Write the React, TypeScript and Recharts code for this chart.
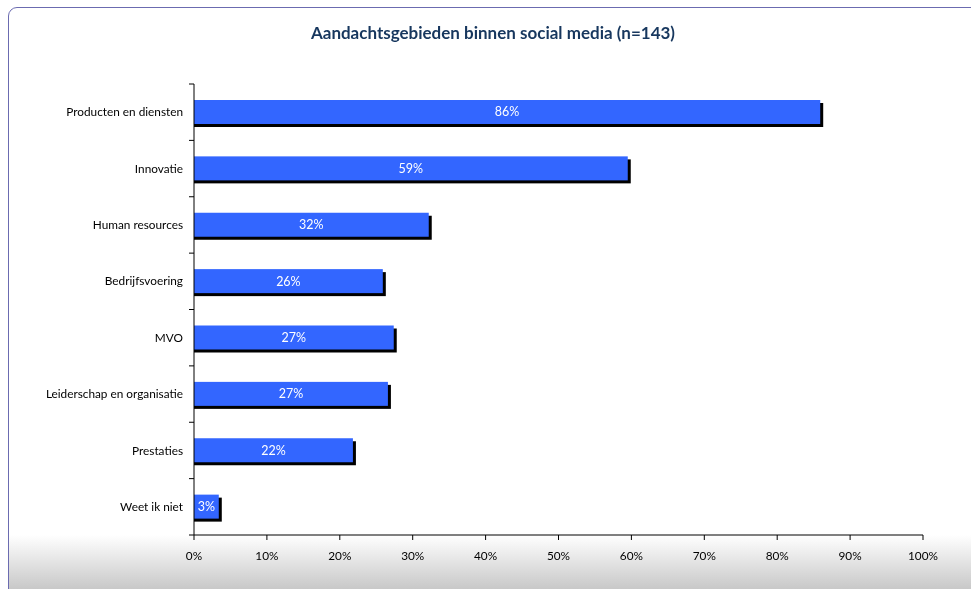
import React from "react";
import { BarChart, Bar, XAxis, YAxis, LabelList } from "recharts";

const categories = [
  "Producten en diensten",
  "Innovatie",
  "Human resources",
  "Bedrijfsvoering",
  "MVO",
  "Leiderschap en organisatie",
  "Prestaties",
  "Weet ik niet",
];
const values = [85.9, 59.5, 32.2, 25.9, 27.4, 26.6, 21.8, 3.4];
const valueLabels = ["86%", "59%", "32%", "26%", "27%", "27%", "22%", "3%"];
const xTicks = [0, 10, 20, 30, 40, 50, 60, 70, 80, 90, 100];
const title = "Aandachtsgebieden binnen social media (n=143)";

const data = categories.map((c, i) => ({ name: c, value: values[i], label: valueLabels[i] }));

const FONT = "Lato, 'Open Sans', sans-serif";
const CHART_W = 962;
const CHART_H = 581;
const M_TOP = 75;
const M_BOTTOM = 25;
const X_AXIS_H = 30;
const Y_AXIS_W = 185;
const PLOT_H = CHART_H - M_TOP - M_BOTTOM - X_AXIS_H;
const BAND = PLOT_H / categories.length;

const ShadowBar = (props: any) => {
  const { x, y, width, height } = props;
  if (width == null || width <= 0) return null;
  return (
    <g>
      <rect x={x} y={y + 3} width={width + 3} height={height} fill="#000" />
      <rect x={x} y={y} width={width} height={height} fill="#3366ff" />
    </g>
  );
};

const YTick = (props: any) => {
  const { y, payload, index } = props;
  const ax = Y_AXIS_W;
  return (
    <g>
      <line x1={ax - 5} x2={ax} y1={y - BAND / 2} y2={y - BAND / 2} stroke="#000" />
      {index === categories.length - 1 && (
        <line x1={ax - 5} x2={ax} y1={y + BAND / 2} y2={y + BAND / 2} stroke="#000" />
      )}
      <text x={ax - 11} y={y} dy="0.35em" textAnchor="end" fontSize={11.8} fill="#000" fontFamily={FONT}>
        {payload.value}
      </text>
    </g>
  );
};

export default function App() {
  return (
    <div
      style={{
        position: "fixed",
        left: 8,
        top: 7,
        width: 990,
        height: 610,
        border: "1px solid #6b6bb0",
        borderRadius: 9,
        background: "linear-gradient(to bottom, #ffffff 0px, #ffffff 527px, #c6c6c6 583px, #c0c0c0 610px)",
        overflow: "hidden",
      }}
    >
      <div
        style={{
          position: "absolute",
          left: 0,
          top: 14,
          width: 968,
          textAlign: "center",
          fontFamily: FONT,
          fontWeight: 700,
          fontSize: 17,
          color: "#17375e",
        }}
      >
        {title}
      </div>
      <div style={{ position: "absolute", left: 0, top: 1 }}>
        <BarChart
          width={CHART_W}
          height={CHART_H}
          data={data}
          layout="vertical"
          margin={{ top: M_TOP, right: 48, bottom: M_BOTTOM, left: 0 }}
        >
          <XAxis
            type="number"
            domain={[0, 100]}
            ticks={xTicks}
            tickFormatter={(v: number) => `${v}%`}
            height={X_AXIS_H}
            axisLine={{ stroke: "#000" }}
            tickLine={{ stroke: "#000" }}
            tickSize={5}
            tickMargin={12}
            tick={{ fontSize: 11.8, fill: "#000", fontFamily: FONT }}
            interval={0}
          />
          <YAxis
            type="category"
            dataKey="name"
            width={Y_AXIS_W}
            axisLine={{ stroke: "#000" }}
            tickLine={false}
            tick={<YTick />}
            interval={0}
          />
          <Bar dataKey="value" barSize={24} shape={<ShadowBar />} isAnimationActive={false}>
            <LabelList dataKey="label" position="center" fill="#ffffff" fontSize={12.5} fontFamily={FONT} />
          </Bar>
        </BarChart>
      </div>
    </div>
  );
}
